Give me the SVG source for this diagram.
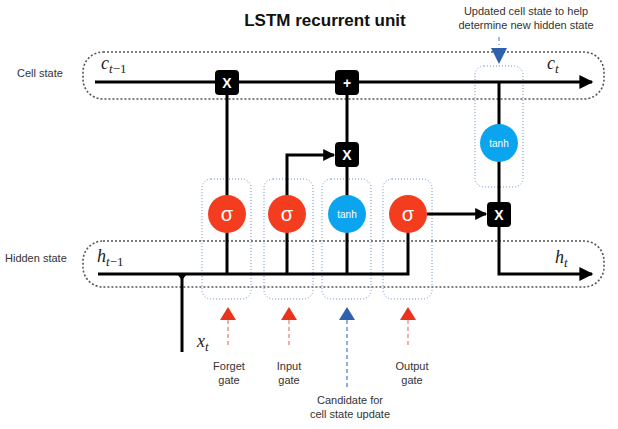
<svg xmlns="http://www.w3.org/2000/svg" width="618" height="429" viewBox="0 0 618 429">
<defs>
<marker id="ah" viewBox="0 0 10 10" refX="9" refY="5" markerWidth="13" markerHeight="12" markerUnits="userSpaceOnUse" orient="auto"><path d="M0,0 L10,5 L0,10 Z" fill="#000"/></marker>
<marker id="ahL" viewBox="0 0 10 10" refX="9" refY="5" markerWidth="16" markerHeight="14" markerUnits="userSpaceOnUse" orient="auto"><path d="M0,0 L10,5 L0,10 Z" fill="#000"/></marker>
</defs>
<style>
.lbl{font-family:"Liberation Sans",Arial,sans-serif;font-size:11px;fill:#333}
.math{font-family:"Liberation Serif","Times New Roman",serif;font-style:italic;fill:#222}
.state{fill:none;stroke:#555;stroke-width:1.6;stroke-dasharray:2 2}
.gbox{fill:none;stroke:#6a8fcf;stroke-width:1;stroke-dasharray:1 2}
.w{stroke:#000;stroke-width:3;fill:none}
.op{fill:#000}
.opt{font-family:"Liberation Sans",Arial,sans-serif;font-size:14px;font-weight:bold;fill:#fff;text-anchor:middle}
.sig{fill:#f43c1e}
.tanh{fill:#0aa4ef}
.gt{font-family:"Liberation Sans",Arial,sans-serif;fill:#fff;text-anchor:middle}
</style>
<rect width="618" height="429" fill="#fff"/>
<text x="325" y="26" text-anchor="middle" style="font-family:'Liberation Sans',Arial,sans-serif;font-size:17px;font-weight:bold" fill="#111">LSTM recurrent unit</text>
<text x="526" y="15" text-anchor="middle" class="lbl">Updated cell state to help</text>
<text x="526" y="29" text-anchor="middle" class="lbl">determine new hidden state</text>

<g id="cell-state">
<rect x="83" y="52" width="521" height="47" rx="20" class="state"/>
<text x="17" y="77" class="lbl">Cell state</text>
<text x="101" y="69" class="math" font-size="18">c<tspan font-size="13" dy="4">t</tspan><tspan font-size="13" font-style="normal">−1</tspan></text>
<text x="547" y="69" class="math" font-size="18">c<tspan font-size="13" dy="4">t</tspan></text>
</g>
<g id="hidden-state">
<rect x="83" y="241" width="521" height="46" rx="20" class="state"/>
<text x="5" y="262" class="lbl">Hidden state</text>
<text x="97" y="262" class="math" font-size="18">h<tspan font-size="13" dy="4">t</tspan><tspan font-size="13" font-style="normal">−1</tspan></text>
<text x="555" y="263" class="math" font-size="18">h<tspan font-size="13" dy="4">t</tspan></text>
<text x="197" y="347" class="math" font-size="18">x<tspan font-size="13" dy="4">t</tspan></text>
</g>

<g id="gate-boxes">
<rect x="202" y="179" width="49" height="120" rx="9" class="gbox"/>
<rect x="264" y="179" width="49" height="120" rx="9" class="gbox"/>
<rect x="322" y="179" width="49" height="120" rx="9" class="gbox"/>
<rect x="383" y="179" width="49" height="120" rx="9" class="gbox"/>
<rect x="475" y="66" width="48" height="121" rx="9" class="gbox"/>
</g>

<g id="connectors">
<path d="M95,82 H227" class="w"/>
<path d="M227,82 H347" class="w"/>
<path d="M347,82 H592" class="w" marker-end="url(#ahL)"/>
<path d="M98,274 H408 V214" class="w"/>
<path d="M227,274 V82" class="w"/>
<path d="M287,274 V155 H334" class="w" marker-end="url(#ah)"/>
<path d="M347,274 V82" class="w"/>
<path d="M182,274 V352" class="w"/>
<path d="M177,274 L187,274 L182,280 Z" fill="#000"/>
<path d="M427,214 H486" class="w" marker-end="url(#ah)"/>
<path d="M499,82 V215 V274 H592" class="w" marker-end="url(#ahL)"/>
</g>

<g id="forget-mult"><rect x="215" y="70" width="24" height="25" rx="4" class="op"/><text x="227" y="87.5" class="opt">X</text></g>
<g id="cell-add"><rect x="335" y="70" width="24" height="25" rx="4" class="op"/><text x="347" y="87.5" class="opt">+</text></g>
<g id="input-mult"><rect x="335" y="142" width="24" height="25" rx="4" class="op"/><text x="347" y="159.5" class="opt">X</text></g>
<g id="output-mult"><rect x="487" y="202" width="24" height="25" rx="4" class="op"/><text x="499" y="219.5" class="opt">X</text></g>

<g id="forget-gate"><circle cx="227" cy="214" r="19" class="sig"/><text x="227" y="221" class="gt" font-size="20">σ</text></g>
<g id="input-gate"><circle cx="287" cy="214" r="19" class="sig"/><text x="287" y="221" class="gt" font-size="20">σ</text></g>
<g id="candidate"><circle cx="347" cy="214" r="19" class="tanh"/><text x="347" y="218" class="gt" font-size="10">tanh</text></g>
<g id="output-gate"><circle cx="408" cy="214" r="19" class="sig"/><text x="408" y="221" class="gt" font-size="20">σ</text></g>
<g id="cell-tanh"><circle cx="499" cy="143" r="19" class="tanh"/><text x="499" y="147" class="gt" font-size="10">tanh</text></g>

<g id="annotations">
<path d="M499,37 V45" stroke="#4a78c0" stroke-width="1" stroke-dasharray="4 3"/>
<path d="M491,48 L507,48 L499,64 Z" fill="#2f62ad"/>
<path d="M228,320 V346" stroke="#ee7a6a" stroke-width="1.2" stroke-dasharray="4 3"/>
<path d="M220,320 L236,320 L228,307 Z" fill="#e8341c"/>
<path d="M289,320 V346" stroke="#ee7a6a" stroke-width="1.2" stroke-dasharray="4 3"/>
<path d="M281,320 L297,320 L289,307 Z" fill="#e8341c"/>
<path d="M347,320 V389" stroke="#4a78c0" stroke-width="1.2" stroke-dasharray="4 3"/>
<path d="M339,320 L355,320 L347,307 Z" fill="#2f62ad"/>
<path d="M408,320 V346" stroke="#ee7a6a" stroke-width="1.2" stroke-dasharray="4 3"/>
<path d="M400,320 L416,320 L408,307 Z" fill="#e8341c"/>
<text x="229" y="370" text-anchor="middle" class="lbl">Forget</text>
<text x="229" y="384" text-anchor="middle" class="lbl">gate</text>
<text x="289" y="370" text-anchor="middle" class="lbl">Input</text>
<text x="289" y="384" text-anchor="middle" class="lbl">gate</text>
<text x="412" y="370" text-anchor="middle" class="lbl">Output</text>
<text x="412" y="384" text-anchor="middle" class="lbl">gate</text>
<text x="350" y="404" text-anchor="middle" class="lbl">Candidate for</text>
<text x="350" y="418" text-anchor="middle" class="lbl">cell state update</text>
</g>
</svg>
